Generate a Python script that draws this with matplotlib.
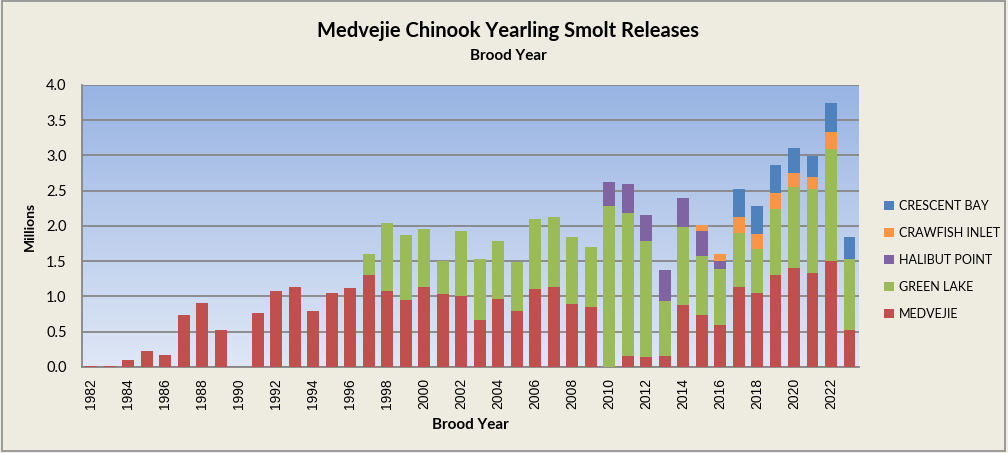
import numpy as np
from matplotlib import pyplot as plt
from matplotlib.patches import Rectangle

years = list(range(1982, 2024))
medvejie = [0.02, 0.02, 0.10, 0.22, 0.17, 0.74, 0.91, 0.53, 0.0, 0.76,
            1.08, 1.13, 0.79, 1.05, 1.12, 1.30, 1.08, 0.95, 1.14, 1.03,
            1.01, 0.67, 0.97, 0.79, 1.10, 1.14, 0.89, 0.85, 0.0, 0.15,
            0.14, 0.15, 0.88, 0.74, 0.60, 1.13, 1.05, 1.30, 1.40, 1.33,
            1.50, 0.52]
green_lake = [0.0] * 15 + [0.30, 0.96, 0.92, 0.81, 0.47, 0.92, 0.86, 0.82,
                           0.70, 1.00, 0.99, 0.95, 0.85, 2.28, 2.04, 1.64,
                           0.79, 1.11, 0.84, 0.79, 0.77, 0.63, 0.94, 1.15,
                           1.20, 1.59, 1.01]
halibut_point = [0.0] * 28 + [0.35, 0.41, 0.38, 0.43, 0.40, 0.35, 0.11,
                              0.0, 0.0, 0.0, 0.0, 0.0, 0.0, 0.0]
crawfish_inlet = [0.0] * 33 + [0.08, 0.10, 0.23, 0.21, 0.23, 0.20, 0.16,
                               0.25, 0.0]
crescent_bay = [0.0] * 35 + [0.40, 0.39, 0.40, 0.35, 0.30, 0.40, 0.32]

series = [("MEDVEJIE", medvejie, "#C0504D"),
          ("GREEN LAKE", green_lake, "#9BBB59"),
          ("HALIBUT POINT", halibut_point, "#8064A2"),
          ("CRAWFISH INLET", crawfish_inlet, "#F79646"),
          ("CRESCENT BAY", crescent_bay, "#4F81BD")]

label_font = ["Lato", "DejaVu Sans"]

fig = plt.figure(figsize=(10.08, 4.53), dpi=100)
fig.patch.set_facecolor("#EEECE1")
fig.patches.append(Rectangle((0.002, 0.004), 0.995, 0.993, transform=fig.transFigure,
                             fill=False, edgecolor="#8C8C8C", linewidth=1.2))

ax = fig.add_axes([0.0813, 0.19, 0.7707, 0.6224])
x = np.arange(len(years))

# gradient plot background
grad = np.linspace(0, 1, 256).reshape(-1, 1)
top = np.array([0x98, 0xB4, 0xE3]) / 255
bottom = np.array([0xDF, 0xE7, 0xF5]) / 255
img = top + (bottom - top) * grad[:, :, None]
ax.imshow(img, extent=[-0.5, len(years) - 0.5, 0, 4.0], aspect="auto", zorder=0)

base = np.zeros(len(years))
handles = []
for name, vals, color in series:
    vals = np.array(vals)
    b = ax.bar(x, vals, 0.64, bottom=base, color=color, zorder=3, label=name)
    handles.append(b)
    base = base + vals

ax.set_xlim(-0.5, len(years) - 0.5)
ax.set_ylim(0, 4.0)
ax.set_yticks(np.arange(0, 4.01, 0.5))
ax.set_yticklabels(["%.1f" % v for v in np.arange(0, 4.01, 0.5)], fontsize=10.5,
                   family=label_font)
ax.set_xticks(x[::2])
ax.set_xticklabels([str(y) for y in years[::2]], rotation=90, fontsize=10,
                   family="Liberation Sans")
ax.yaxis.grid(True, color="#868686", linewidth=1.3, zorder=1)
ax.set_axisbelow(False)
for s in ["top", "right"]:
    ax.spines[s].set_visible(False)
for s in ["left", "bottom"]:
    ax.spines[s].set_color("#868686")
    ax.spines[s].set_linewidth(1.3)
ax.tick_params(axis="y", length=0, pad=11)
ax.tick_params(axis="x", length=0, pad=8)

ax.set_ylabel("Millions", fontsize=10, fontweight="bold", family=label_font, labelpad=7)
ax.set_xlabel("Brood Year", fontsize=11, fontweight="bold", family=label_font, labelpad=6)

fig.text(0.504, 0.932, "Medvejie Chinook Yearling Smolt Releases", ha="center", va="center",
         fontsize=14.5, fontweight="bold", family=label_font)
fig.text(0.504, 0.877, "Brood Year", ha="center", va="center",
         fontsize=11, fontweight="bold", family=label_font)

fig.legend(handles[::-1], [s[0] for s in series][::-1], loc="center left",
           bbox_to_anchor=(0.866, 0.426), frameon=False,
           prop={"family": label_font, "size": 9},
           handlelength=0.8, handleheight=0.8, handletextpad=0.4, labelspacing=1.2)

fig.savefig("out.png", dpi=100, facecolor=fig.get_facecolor())
